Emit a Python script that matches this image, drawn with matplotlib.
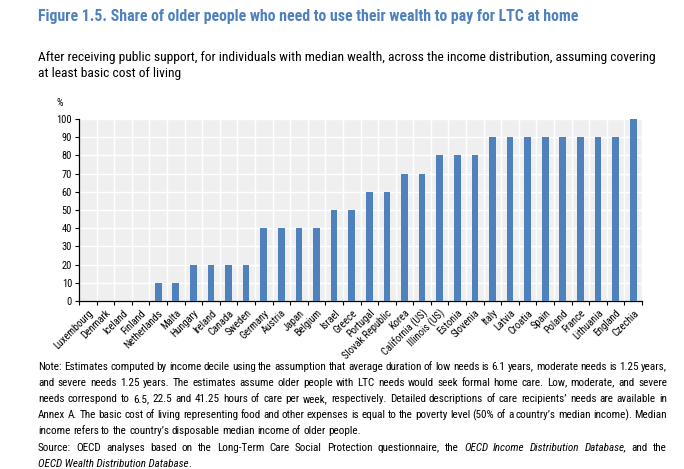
import numpy as np
import matplotlib
matplotlib.use("Agg")
import matplotlib.pyplot as plt

# ---- data ----
countries = [
    "Luxembourg", "Denmark", "Iceland", "Finland", "Netherlands", "Malta",
    "Hungary", "Ireland", "Canada", "Sweden", "Germany", "Austria", "Japan",
    "Belgium", "Israel", "Greece", "Portugal", "Slovak Republic", "Korea",
    "California (US)", "Illinois (US)", "Estonia", "Slovenia", "Italy",
    "Latvia", "Croatia", "Spain", "Poland", "France", "Lithuania", "England",
    "Czechia",
]
share = [0, 0, 0, 0, 10, 10, 20, 20, 20, 20, 40, 40, 40, 40, 50, 50, 60, 60,
         70, 70, 80, 80, 80, 90, 90, 90, 90, 90, 90, 90, 90, 100]
yticks = list(range(0, 101, 10))

title = "Figure 1.5. Share of older people who need to use their wealth to pay for LTC at home"
subtitle = [
    "After receiving public support, for individuals with median wealth, across the income distribution, assuming covering",
    "at least basic cost of living",
]
# (text, justified?)
note_lines = [
    ("Note: Estimates computed by income decile using the assumption that average duration of low needs is 6.1 years, moderate needs is 1.25 years,", True),
    ("and severe needs 1.25 years. The estimates assume older people with LTC needs would seek formal home care. Low, moderate, and severe", True),
    ("needs correspond to 6.5, 22.5 and 41.25 hours of care per week, respectively. Detailed descriptions of care recipients\u2019 needs are available in", True),
    ("Annex A. The basic cost of living representing food and other expenses is equal to the poverty level (50% of a country\u2019s median income). Median", True),
    ("income refers to the country\u2019s disposable median income of older people.", False),
]
source_pieces = [
    ("Source: OECD analyses based on the Long-Term Care Social Protection questionnaire, the", "normal"),
    ("OECD Income Distribution Database,", "italic"),
    ("and the", "normal"),
]
source_tail = [("OECD Wealth Distribution Database", "italic"), (".", "normal")]

bar_color = "#4F81BD"
title_color = "#4F81BD"
plt.rcParams["font.family"] = ["Roboto Condensed", "Liberation Sans", "DejaVu Sans"]

W, H = 684, 469
fig = plt.figure(figsize=(W / 100, H / 100), dpi=100)
r = fig.canvas.get_renderer()


def text_width(s, size, style="normal", weight="normal"):
    t = fig.text(0, 0, s, fontsize=size, style=style, fontweight=weight)
    w = t.get_window_extent(renderer=r).width
    t.remove()
    return w


def fit_size(s, target, style="normal", weight="normal"):
    return 10.0 * target / text_width(s, 10.0, style, weight)


def place_words(words, ybase, x0, x1, size, justify):
    # words: list of (word, style); spread them to fill x0..x1 when justified
    widths = [text_width(w, size, st) for w, st in words]
    space = text_width("a b", size) - text_width("ab", size)
    if justify and len(words) > 1:
        gap = (x1 - x0 - sum(widths)) / (len(words) - 1)
    else:
        gap = space
    xp = x0
    for (w, st), wd in zip(words, widths):
        fig.text(xp / W, 1 - ybase / H, w, fontsize=size, style=st,
                 ha="left", va="baseline")
        xp += wd + gap


# ---- chart ----
ax = fig.add_axes([79 / W, 1 - 301 / H, (642 - 79) / W, (301 - 119) / H])
x = np.arange(len(countries))
ax.set_facecolor("#EFEFEF")
ax.bar(x, share, width=0.38, color=bar_color, zorder=3)

ax.set_xlim(-0.5, len(countries) - 0.5)
ax.set_ylim(0, 100)
ax.set_yticks(yticks)
ax.tick_params(axis="y", labelsize=7.5, length=3, width=0.8, pad=2)

ax.set_xticks(x)
ax.set_xticklabels(countries, rotation=45, ha="right", rotation_mode="anchor", fontsize=7.5)
ax.tick_params(axis="x", which="major", length=0, pad=5)
ax.set_xticks(np.arange(-0.5, len(countries), 1.0), minor=True)
ax.tick_params(axis="x", which="minor", length=3, width=0.8)

ax.grid(True, axis="y", color="white", lw=1.0, zorder=1)
ax.grid(True, axis="x", which="minor", color="white", lw=1.0, zorder=1)
ax.grid(False, axis="x", which="major")
for side in ["top", "right"]:
    ax.spines[side].set_visible(False)
ax.spines["left"].set_linewidth(0.9)
ax.spines["bottom"].set_linewidth(0.9)

fig.text(60 / W, 1 - 103 / H, "%", fontsize=7.5, ha="center", va="center")

# ---- titles ----
ts = fit_size(title, 544, weight="bold")
fig.text(38 / W, 1 - 17 / H, title, fontsize=ts, fontweight="bold",
         color=title_color, ha="left", va="center")
ss = fit_size(subtitle[0], 614)
fig.text(38 / W, 1 - 57 / H, subtitle[0], fontsize=ss, ha="left", va="center")
fig.text(38 / W, 1 - 73 / H, subtitle[1], fontsize=ss, ha="left", va="center")

# ---- notes (baseline positions in pixels) ----
ns = min(fit_size(t, 627) for t, j in note_lines if j)
x0, x1 = 38, 667
y0, dy = 369.5, 16.2
for i, (line, just) in enumerate(note_lines):
    words = [(w, "normal") for w in line.split(" ")]
    place_words(words, y0 + i * dy, x0, x1, ns, just)

ys = y0 + 5 * dy
words = []
for txt, st in source_pieces:
    words += [(w, st) for w in txt.split(" ")]
place_words(words, ys, x0, x1, ns, True)
xp = x0
for txt, st in source_tail:
    t = fig.text(xp / W, 1 - (ys + dy) / H, txt, fontsize=ns, style=st,
                 ha="left", va="baseline")
    xp += t.get_window_extent(renderer=r).width

fig.savefig("out.png", dpi=100)
